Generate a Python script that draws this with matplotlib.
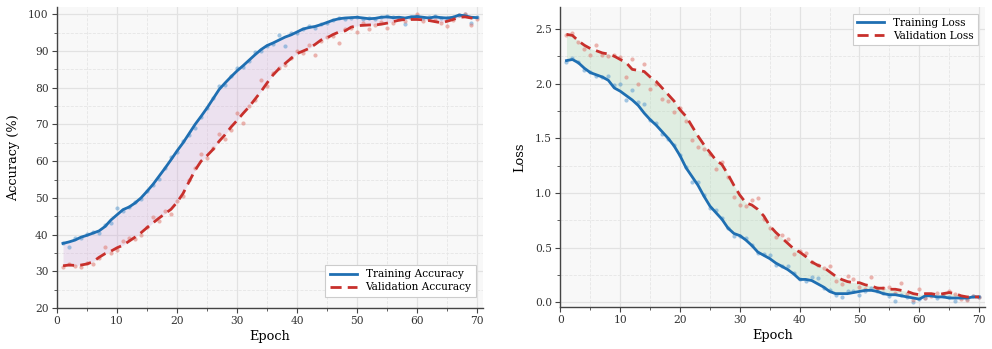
import numpy as np
import matplotlib
matplotlib.use("Agg")
import matplotlib.pyplot as plt
from matplotlib.ticker import MultipleLocator

epochs = list(range(1, 71))

train_acc_smooth = [37.6, 38.0, 38.5, 39.3, 39.8, 40.4, 41.0, 42.2, 44.0, 45.4,
                    46.8, 47.5, 48.6, 50.0, 51.8, 53.7, 55.9, 58.1, 60.4, 62.8,
                    65.0, 67.5, 70.0, 72.2, 74.5, 77.0, 79.5, 81.3, 83.0, 84.6,
                    86.0, 87.5, 89.0, 90.4, 91.5, 92.2, 93.0, 93.8, 94.4, 95.2,
                    96.0, 96.4, 96.7, 97.2, 97.8, 98.4, 98.8, 99.0, 99.1, 99.2,
                    99.0, 98.8, 98.9, 99.2, 99.3, 99.1, 99.2, 99.0, 99.3, 99.4,
                    99.2, 99.0, 99.3, 99.1, 99.0, 99.2, 99.8, 99.6, 99.2, 99.1]
val_acc_smooth = [31.5, 31.7, 31.6, 31.7, 32.0, 32.6, 33.8, 34.8, 35.5, 36.4,
                  37.1, 38.2, 39.3, 40.5, 41.9, 43.2, 44.5, 45.7, 46.9, 48.8,
                  51.2, 54.4, 57.5, 60.0, 61.5, 63.2, 65.4, 67.2, 69.3, 71.1,
                  73.0, 74.8, 76.9, 79.0, 81.3, 83.5, 85.2, 86.6, 88.0, 89.3,
                  90.0, 90.7, 91.8, 93.0, 93.6, 94.5, 95.2, 95.5, 96.5, 96.9,
                  97.0, 97.1, 97.1, 97.3, 97.6, 98.0, 98.4, 98.6, 98.6, 98.6,
                  98.5, 98.3, 98.0, 97.7, 98.1, 98.6, 99.2, 99.3, 99.0, 98.8]
train_acc_raw = [37.8, 36.6, 39.2, 39.0, 40.1, 40.8, 40.3, 42.5, 43.2, 47.3,
                 46.4, 47.4, 49.0, 49.8, 52.0, 53.5, 55.1, 58.0, 61.2, 62.6,
                 65.4, 67.2, 69.1, 72.0, 74.6, 77.1, 80.4, 80.8, 83.2, 85.3,
                 85.6, 87.4, 89.6, 90.1, 91.3, 92.0, 94.4, 91.5, 94.8, 95.0,
                 96.0, 96.7, 96.2, 97.4, 97.6, 98.5, 99.1, 98.8, 99.0, 99.3,
                 98.7, 99.0, 98.6, 99.4, 99.5, 99.2, 98.9, 97.4, 99.3, 99.5,
                 99.0, 99.2, 99.6, 98.9, 99.1, 99.4, 99.9, 100.0, 97.7, 99.2]
val_acc_raw = [31.2, 31.9, 31.5, 31.2, 32.3, 32.1, 33.5, 36.7, 35.0, 35.8,
               38.2, 39.0, 38.8, 39.8, 42.1, 44.8, 43.8, 46.5, 45.6, 49.2,
               50.5, 54.8, 58.2, 62.0, 60.8, 63.5, 67.5, 66.0, 68.4, 73.2,
               70.5, 74.9, 76.7, 82.0, 80.4, 84.0, 85.5, 86.2, 88.0, 90.0,
               89.5, 91.6, 88.9, 92.8, 93.9, 94.0, 92.3, 96.0, 96.2, 95.3,
               97.5, 95.9, 97.2, 98.0, 96.4, 97.7, 98.8, 98.2, 98.9, 100.0,
               98.1, 98.6, 98.5, 97.6, 96.9, 98.4, 99.8, 100.2, 97.0, 98.6]

train_loss_smooth = [2.21, 2.22, 2.19, 2.14, 2.10, 2.08, 2.06, 2.03, 1.96, 1.93,
                     1.89, 1.85, 1.80, 1.73, 1.67, 1.62, 1.56, 1.50, 1.43, 1.34,
                     1.23, 1.15, 1.07, 0.97, 0.88, 0.82, 0.76, 0.68, 0.63, 0.61,
                     0.57, 0.52, 0.46, 0.43, 0.40, 0.36, 0.33, 0.30, 0.26, 0.21,
                     0.21, 0.20, 0.17, 0.14, 0.10, 0.08, 0.08, 0.08, 0.09, 0.10,
                     0.11, 0.11, 0.10, 0.08, 0.07, 0.07, 0.06, 0.05, 0.04, 0.03,
                     0.06, 0.06, 0.05, 0.05, 0.04, 0.04, 0.04, 0.04, 0.05, 0.05]
val_loss_smooth = [2.45, 2.44, 2.39, 2.35, 2.32, 2.30, 2.28, 2.27, 2.25, 2.22,
                   2.19, 2.13, 2.12, 2.11, 2.06, 2.02, 1.96, 1.90, 1.84, 1.76,
                   1.70, 1.61, 1.52, 1.44, 1.37, 1.30, 1.26, 1.17, 1.07, 0.98,
                   0.91, 0.89, 0.85, 0.79, 0.70, 0.64, 0.59, 0.54, 0.49, 0.46,
                   0.42, 0.37, 0.34, 0.32, 0.28, 0.24, 0.21, 0.19, 0.18, 0.18,
                   0.16, 0.15, 0.13, 0.13, 0.12, 0.12, 0.11, 0.10, 0.08, 0.07,
                   0.08, 0.08, 0.07, 0.08, 0.09, 0.08, 0.06, 0.05, 0.05, 0.05]
train_loss_raw = [2.20, 2.23, 2.20, 2.12, 2.11, 2.07, 2.06, 2.07, 1.99, 2.00,
                  1.85, 1.94, 1.83, 1.81, 1.67, 1.64, 1.54, 1.49, 1.44, 1.35,
                  1.24, 1.10, 1.10, 0.98, 0.86, 0.84, 0.77, 0.68, 0.61, 0.61,
                  0.59, 0.52, 0.45, 0.44, 0.43, 0.34, 0.33, 0.33, 0.27, 0.21,
                  0.20, 0.23, 0.22, 0.13, 0.11, 0.07, 0.05, 0.10, 0.10, 0.07,
                  0.10, 0.13, 0.10, 0.09, 0.06, 0.01, 0.07, 0.05, 0.00, 0.03,
                  0.04, 0.07, 0.04, 0.06, 0.05, 0.01, 0.05, 0.03, 0.06, 0.05]
val_loss_raw = [2.44, 2.46, 2.38, 2.32, 2.26, 2.35, 2.26, 2.25, 2.26, 2.24,
                2.06, 2.22, 2.00, 2.18, 1.95, 2.00, 1.86, 1.84, 1.74, 1.78,
                1.66, 1.48, 1.42, 1.40, 1.36, 1.22, 1.28, 1.15, 0.96, 0.89,
                0.88, 0.94, 0.95, 0.76, 0.68, 0.60, 0.62, 0.58, 0.44, 0.47,
                0.45, 0.37, 0.34, 0.31, 0.33, 0.20, 0.17, 0.24, 0.21, 0.14,
                0.12, 0.23, 0.13, 0.13, 0.14, 0.09, 0.18, 0.08, 0.02, 0.12,
                0.04, 0.06, 0.09, 0.08, 0.10, 0.08, 0.03, 0.02, 0.06, 0.05]

BLUE = "#1f6fb2"
RED = "#c8302c"

plt.rcParams["font.family"] = ["DejaVu Serif"]
plt.rcParams["font.size"] = 8

fig = plt.figure(figsize=(9.92, 3.49), dpi=100)
ax1 = fig.add_axes([0.0575, 0.1175, 0.4295, 0.8625])
ax2 = fig.add_axes([0.565, 0.121, 0.428, 0.859])


def style(ax):
    ax.set_facecolor("#f8f8f8")
    for s in ["top", "right"]:
        ax.spines[s].set_visible(False)
    for s in ["left", "bottom"]:
        ax.spines[s].set_color("#444444")
        ax.spines[s].set_linewidth(1.0)
    ax.grid(True, which="major", color="#e2e2e2", linewidth=0.9, linestyle="-")
    ax.grid(True, which="minor", color="#e6e6e6", linewidth=0.6, linestyle="--")
    ax.set_axisbelow(True)
    ax.tick_params(which="major", length=3.5, width=0.8, colors="#444444",
                   labelcolor="#333333", labelsize=7.7, pad=2.5)
    ax.tick_params(which="minor", length=2, width=0.6, colors="#444444")
    ax.xaxis.set_major_locator(MultipleLocator(10))
    ax.xaxis.set_minor_locator(MultipleLocator(5))
    ax.set_xlim(0, 71)
    ax.set_xlabel("Epoch", fontsize=9.3, labelpad=3)


# Accuracy
style(ax1)
ax1.fill_between(epochs, train_acc_smooth, val_acc_smooth, color="#cfa6d8",
                 alpha=0.28, linewidth=0)
ax1.scatter(epochs, train_acc_raw, s=9, color="#5b9bd0", alpha=0.55, linewidths=0)
ax1.scatter(epochs, val_acc_raw, s=9, color="#e07a70", alpha=0.55, linewidths=0)
ax1.plot(epochs, train_acc_smooth, color=BLUE, lw=2.0, label="Training Accuracy")
ax1.plot(epochs, val_acc_smooth, color=RED, lw=2.0, ls=(0, (4, 2.2)),
         label="Validation Accuracy")
ax1.set_ylim(20, 102)
ax1.yaxis.set_major_locator(MultipleLocator(10))
ax1.yaxis.set_minor_locator(MultipleLocator(5))
ax1.set_ylabel("Accuracy (%)", fontsize=9.3, labelpad=6)
leg1 = ax1.legend(loc="lower right", fontsize=7.6, frameon=True, fancybox=False,
                  framealpha=1.0, edgecolor="#cccccc", borderpad=0.4,
                  handlelength=2.6, labelspacing=0.3, bbox_to_anchor=(0.995, 0.02))
leg1.get_frame().set_linewidth(0.8)

# Loss
style(ax2)
ax2.fill_between(epochs, train_loss_smooth, val_loss_smooth, color="#a8d5ad",
                 alpha=0.3, linewidth=0)
ax2.scatter(epochs, train_loss_raw, s=9, color="#5b9bd0", alpha=0.55, linewidths=0)
ax2.scatter(epochs, val_loss_raw, s=9, color="#e07a70", alpha=0.55, linewidths=0)
ax2.plot(epochs, train_loss_smooth, color=BLUE, lw=2.0, label="Training Loss")
ax2.plot(epochs, val_loss_smooth, color=RED, lw=2.0, ls=(0, (4, 2.2)),
         label="Validation Loss")
ax2.set_ylim(-0.04, 2.70)
ax2.yaxis.set_major_locator(MultipleLocator(0.5))
ax2.yaxis.set_minor_locator(MultipleLocator(0.25))
ax2.set_ylabel("Loss", fontsize=9.3, labelpad=6)
leg2 = ax2.legend(loc="upper right", fontsize=7.6, frameon=True, fancybox=False,
                  framealpha=1.0, edgecolor="#cccccc", borderpad=0.4,
                  handlelength=2.6, labelspacing=0.3, bbox_to_anchor=(0.995, 0.995))
leg2.get_frame().set_linewidth(0.8)

fig.savefig("out.png", dpi=100)
